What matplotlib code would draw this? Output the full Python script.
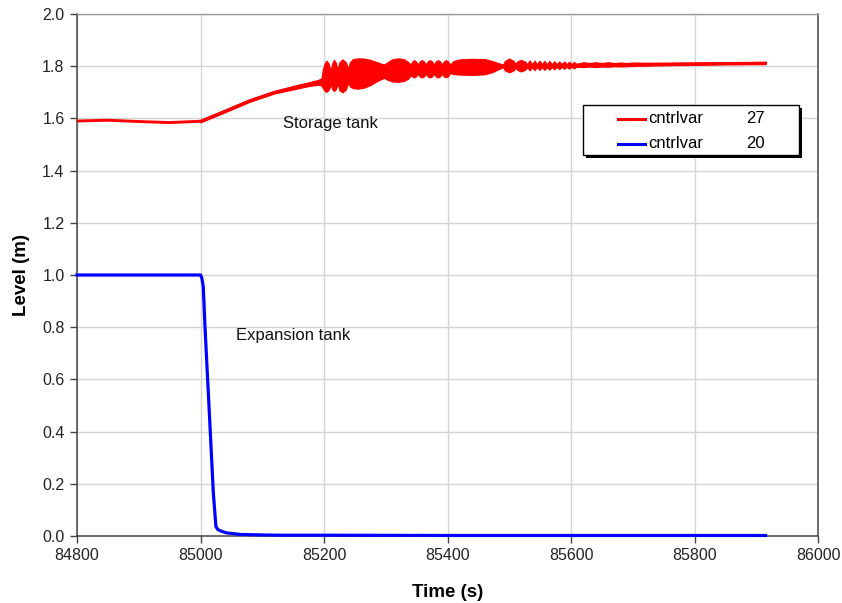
import matplotlib.pyplot as plt
from matplotlib.patches import Rectangle
from matplotlib.lines import Line2D

plt.rcParams['font.family'] = ['Liberation Sans', 'DejaVu Sans']

# storage tank (cntrlvar 27), mean path
red_t = [84800, 84850, 84900, 84950, 85000, 85040, 85080, 85120, 85160, 85190, 85200,
         85220, 85260, 85300, 85350, 85400, 85450, 85500, 85600, 85700, 85800, 85915]
red_v = [1.590, 1.593, 1.588, 1.584, 1.589, 1.628, 1.668, 1.700, 1.724, 1.738, 1.745,
         1.765, 1.775, 1.785, 1.790, 1.797, 1.798, 1.801, 1.804, 1.806, 1.809, 1.812]

# envelope of the storage tank oscillations (upper / lower edge)
env_t = [85000, 85040, 85080, 85120, 85150, 85175, 85190, 85196,
         85198, 85201, 85204, 85207, 85210, 85211.5,
         85213, 85216, 85219, 85221, 85222.5,
         85225, 85230, 85235, 85238, 85239.5,
         85242, 85247, 85255, 85265, 85275, 85285, 85292, 85297,
         85303, 85310, 85320, 85330, 85336, 85340,
         85343, 85346, 85349, 85352, 85355, 85358.5, 85362, 85365,
         85368, 85371.5, 85375, 85378, 85381, 85384.5, 85388, 85391,
         85394, 85397.5, 85401, 85404,
         85410, 85420, 85440, 85460, 85472, 85482, 85490,
         85493, 85500, 85507, 85510, 85513, 85519, 85526, 85529,
         85533, 85537, 85541, 85545, 85549, 85553, 85557, 85561, 85565, 85569,
         85573, 85577, 85581, 85585, 85589, 85593, 85597, 85601, 85605, 85609,
         85620, 85630, 85640, 85650, 85660, 85670, 85680, 85690, 85700, 85720,
         85760, 85800, 85850, 85915]
env_hi = [1.594, 1.633, 1.673, 1.705, 1.723, 1.738, 1.747, 1.753,
          1.785, 1.810, 1.821, 1.812, 1.790, 1.785,
          1.808, 1.824, 1.814, 1.795, 1.790,
          1.815, 1.826, 1.816, 1.798, 1.792,
          1.815, 1.827, 1.830, 1.829, 1.824, 1.816, 1.810, 1.806,
          1.815, 1.826, 1.830, 1.826, 1.816, 1.806,
          1.818, 1.823, 1.818, 1.805, 1.818, 1.823, 1.818, 1.805,
          1.818, 1.823, 1.818, 1.805, 1.818, 1.823, 1.818, 1.805,
          1.818, 1.823, 1.818, 1.806,
          1.820, 1.826, 1.828, 1.827, 1.820, 1.812, 1.806,
          1.820, 1.829, 1.820, 1.808, 1.818, 1.824, 1.817, 1.807,
          1.822, 1.807, 1.821, 1.807, 1.821, 1.807, 1.820, 1.807, 1.820, 1.807,
          1.819, 1.807, 1.818, 1.807, 1.818, 1.807, 1.817, 1.807, 1.816, 1.808,
          1.815, 1.812, 1.815, 1.812, 1.815, 1.812, 1.814, 1.812, 1.814, 1.813,
          1.813, 1.814, 1.815, 1.815]
env_lo = [1.585, 1.624, 1.664, 1.696, 1.711, 1.724, 1.729, 1.726,
          1.718, 1.706, 1.702, 1.708, 1.722, 1.735,
          1.714, 1.705, 1.712, 1.725, 1.735,
          1.708, 1.700, 1.710, 1.728, 1.740,
          1.722, 1.716, 1.714, 1.718, 1.728, 1.742, 1.750, 1.756,
          1.748, 1.742, 1.740, 1.744, 1.752, 1.764,
          1.761, 1.757, 1.761, 1.772, 1.761, 1.757, 1.761, 1.772,
          1.761, 1.757, 1.761, 1.772, 1.761, 1.757, 1.761, 1.772,
          1.761, 1.758, 1.762, 1.774,
          1.770, 1.768, 1.767, 1.769, 1.777, 1.788, 1.796,
          1.784, 1.777, 1.784, 1.795, 1.786, 1.780, 1.787, 1.797,
          1.784, 1.797, 1.785, 1.797, 1.786, 1.797, 1.786, 1.797, 1.787, 1.797,
          1.788, 1.798, 1.789, 1.798, 1.790, 1.798, 1.791, 1.798, 1.792, 1.798,
          1.797, 1.799, 1.797, 1.799, 1.798, 1.800, 1.799, 1.800, 1.801, 1.802,
          1.804, 1.805, 1.807, 1.808]

# expansion tank (cntrlvar 20)
blue_t = [84800, 85000, 85002, 85004.5, 85007.3, 85015.4, 85020.8, 85025, 85028, 85032,
          85042, 85064, 85100, 85130, 85200, 85400, 85915]
blue_v = [1.0, 1.0, 0.99, 0.955, 0.80, 0.42, 0.164, 0.036, 0.025, 0.020,
          0.012, 0.006, 0.004, 0.003, 0.003, 0.002, 0.002]

xticks = [84800, 85000, 85200, 85400, 85600, 85800, 86000]
yticks = [0.0, 0.2, 0.4, 0.6, 0.8, 1.0, 1.2, 1.4, 1.6, 1.8, 2.0]

fig = plt.figure(figsize=(8.42, 6.03), dpi=100)
ax = fig.add_axes([77 / 842, 1 - 536 / 603, 741 / 842, 522 / 603])

ax.fill_between(env_t, env_lo, env_hi, color='red', linewidth=0.9, edgecolor='red', zorder=3)
ax.plot(red_t, red_v, color='red', linewidth=2.1, zorder=3)
ax.plot(blue_t, blue_v, color='blue', linewidth=2.3, zorder=4, clip_on=False)

ax.set_xlim(84800, 86000)
ax.set_ylim(0, 2.0)
ax.set_xticks(xticks)
ax.set_yticks(yticks)
ax.set_yticklabels(['%.1f' % v for v in yticks])
ax.grid(True, color='#d4d4d4', linewidth=1.0)
ax.set_axisbelow(True)
ax.tick_params(direction='out', length=5, width=1, colors='#444444', labelcolor='#222222',
               labelsize=11.5, pad=4)
for side in ['left', 'bottom', 'right']:
    ax.spines[side].set_color('#444444')
    ax.spines[side].set_linewidth(1.1)
ax.spines['top'].set_color('#9a9a9a')
ax.spines['top'].set_linewidth(1.0)

ax.set_xlabel('Time (s)', fontsize=13.5, fontweight='bold', labelpad=15)
ax.set_ylabel('Level (m)', fontsize=13.5, fontweight='bold', labelpad=9)

ax.text(85134, 1.582, 'Storage tank', fontsize=12, va='center', color='#111111')
ax.text(85057, 0.770, 'Expansion tank', fontsize=12, va='center', color='#111111')

# legend box with shadow
bx0, bx1, by0, by1 = 0.6829, 0.9744, 0.7299, 0.8257
ax.add_patch(Rectangle((bx0 + 0.004, by0 - 0.0057), bx1 - bx0, by1 - by0, transform=ax.transAxes,
                       facecolor='black', edgecolor='none', zorder=9))
ax.add_patch(Rectangle((bx0, by0), bx1 - bx0, by1 - by0, transform=ax.transAxes,
                       facecolor='white', edgecolor='black', linewidth=1.0, zorder=10))
for yy, col, num in [(0.7995, 'red', '27'), (0.7519, 'blue', '20')]:
    ax.add_line(Line2D([0.7301, 0.7665], [yy, yy], transform=ax.transAxes, color=col,
                       linewidth=2.2, zorder=11))
    ax.text(0.7706, yy, 'cntrlvar', transform=ax.transAxes, fontsize=12, va='center', zorder=11)
    ax.text(0.9028, yy, num, transform=ax.transAxes, fontsize=12, va='center', zorder=11)

fig.savefig('out.png', dpi=100, facecolor='white')
